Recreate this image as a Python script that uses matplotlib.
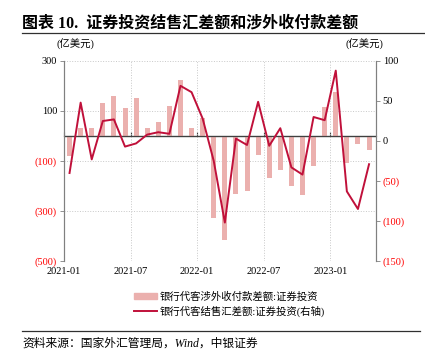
import numpy as np
import matplotlib.pyplot as plt
from matplotlib.lines import Line2D
from matplotlib.patches import Patch

plt.rcParams['font.family'] = ['Liberation Serif', 'Noto Sans CJK SC']

months = ['2021-01', '2021-02', '2021-03', '2021-04', '2021-05', '2021-06', '2021-07',
          '2021-08', '2021-09', '2021-10', '2021-11', '2021-12', '2022-01', '2022-02',
          '2022-03', '2022-04', '2022-05', '2022-06', '2022-07', '2022-08', '2022-09',
          '2022-10', '2022-11', '2022-12', '2023-01', '2023-02', '2023-03', '2023-04']
# 银行代客涉外收付款差额:证券投资 (left axis)
payments = [-78, 32, 34, 134, 162, 114, 154, 34, 58, 120, 226, 32, 74, -326,
            -416, -232, -218, -74, -168, -134, -200, -234, -118, 116, 176, -106, -30, -54]
# 银行代客结售汇差额:证券投资 (right axis)
settlement = [-40, 48, -23, 25, 27, -7, -3, 8, 11, 9, 69, 61, 28, -25,
              -102, 3, -5, 49, -6, 16, -33, -42, 30, 26, 88, -63, -85, -29]
tick_labels = ['2021-01', '2021-07', '2022-01', '2022-07', '2023-01']
left_ticks = [300, 100, -100, -300, -500]
right_ticks = [100, 50, 0, -50, -100, -150]

bar_color = '#EBB0AE'
line_color = '#C0103A'

x = np.arange(len(months)) + 0.5
tick_pos = [months.index(t) for t in tick_labels]


def paren(v):
    v = int(v)
    return f'({abs(v)})' if v < 0 else f'{v}'


fig = plt.figure(figsize=(4.25, 3.64), dpi=100)
ax = fig.add_axes([64 / 425, 1 - 261 / 364, (375.7 - 64) / 425, 200 / 364])
ax2 = ax.twinx()

ax.set_zorder(1)
ax.patch.set_visible(False)
ax2.set_zorder(0)

ax.set_xlim(0, 28.1)
ax.set_ylim(-500, 300)
ax2.set_ylim(-150, 100)

ax.bar(x, payments, width=0.45, color=bar_color, zorder=2)
# line belongs to the right axis scale, drawn on the front axes
ax.plot(x, settlement, color=line_color, lw=1.4, zorder=3,
        transform=ax2.transData)

ax.set_yticks(left_ticks)
ax.set_yticklabels([paren(v) for v in left_ticks], fontsize=7.5)
for lab, v in zip(ax.get_yticklabels(), left_ticks):
    lab.set_color('red' if v < 0 else 'black')
ax2.set_yticks(right_ticks)
ax2.set_yticklabels([paren(v) for v in right_ticks], fontsize=7.5)
for lab, v in zip(ax2.get_yticklabels(), right_ticks):
    lab.set_color('red' if v < 0 else 'black')

ax.set_xticks(tick_pos)
ax.set_xticklabels(tick_labels, fontsize=7.5)
ax.tick_params(axis='x', length=0, pad=4)
ax.tick_params(axis='y', length=3, width=0.6, color='#808080', pad=2)
ax2.tick_params(axis='y', length=3, width=0.6, color='#808080', pad=2)

for a in (ax, ax2):
    a.spines['top'].set_visible(False)
    a.spines['bottom'].set_visible(False)
    a.spines['left'].set_color('#808080')
    a.spines['right'].set_color('#808080')
    a.spines['left'].set_linewidth(0.8)
    a.spines['right'].set_linewidth(0.8)

ax.grid(True, axis='both', linestyle=':', color='#C8C8C8', lw=0.7, zorder=0)
ax.set_axisbelow(True)
ax.axhline(0, color='#404040', lw=0.9, zorder=2.5)

sec = ax.secondary_xaxis(500 / 800)
sec.set_xticks(tick_pos)
sec.set_xticklabels([])
sec.tick_params(length=3, width=0.8, color='#404040', direction='out')
sec.spines['bottom'].set_visible(False)

fig.text(0.132, 0.868, '(亿美元)', fontsize=7.5)
fig.text(0.814, 0.868, '(亿美元)', fontsize=7.5)

fig.text(0.052, 0.935, '图表 10.  证券投资结售汇差额和涉外收付款差额', fontsize=11.5,
         fontweight='bold', va='center')
fig.add_artist(Line2D([22 / 425, 1.0], [1 - 33 / 364] * 2, color='#303030', lw=0.9))
fig.add_artist(Line2D([22 / 425, 420 / 425], [1 - 331 / 364] * 2, color='#303030', lw=0.9))
fig.text(0.052, 1 - 344 / 364, '资料来源：国家外汇管理局，Wind，中银证券', fontsize=8.5,
         style='italic', va='center')

handles = [Patch(color=bar_color), Line2D([], [], color=line_color, lw=1.4)]
labels = ['银行代客涉外收付款差额:证券投资', '银行代客结售汇差额:证券投资(右轴)']
fig.legend(handles, labels, loc='center', bbox_to_anchor=(0.54, 1 - 304 / 364),
           frameon=False, fontsize=7.5, handlelength=2.2, handleheight=0.6,
           handletextpad=0.3, labelspacing=0.35)

fig.savefig('out.png', dpi=100)
